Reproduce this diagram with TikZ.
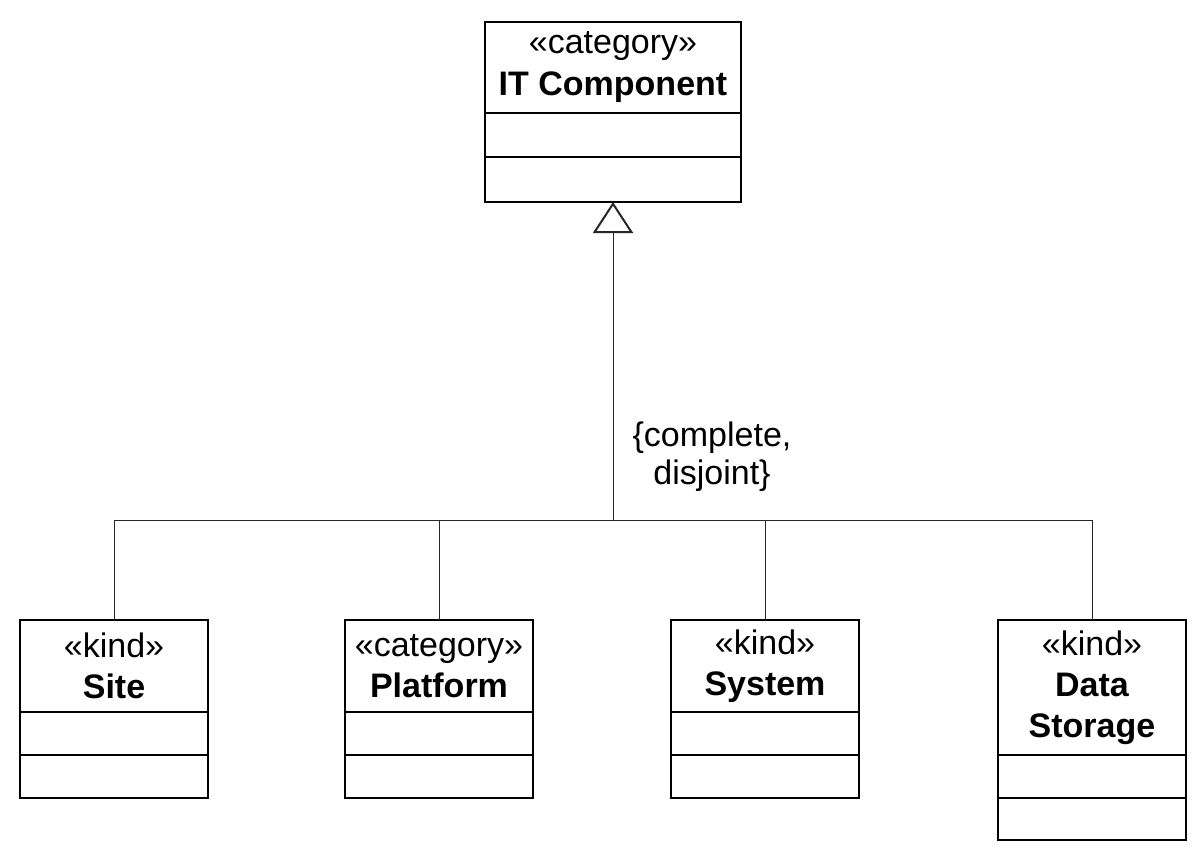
\documentclass[tikz,border=0pt]{standalone}
\usepackage{fontspec}
\setmainfont{Liberation Sans}
\usepackage{tikz}
\usetikzlibrary{positioning}
\usetikzlibrary{arrows.meta}

\begin{document}
\begin{tikzpicture}[x=1pt, y=-1pt,
	head/.style={draw, line width=2pt, outer sep=0pt, inner sep=0pt, minimum width=188pt, minimum height=92pt, align=center, font=\fontsize{34}{41}\selectfont},
	comp/.style={draw, line width=2pt, outer sep=0pt, inner sep=0pt, minimum width=188pt, minimum height=43pt},
	link/.style={line width=1pt, black!85},
	gen/.style={link, -{Triangle[open, length=31pt, width=40pt, line width=2pt]}}]
	\useasboundingbox (0,0) rectangle (1204,862);

	% general class
	\node[head, minimum width=256pt, minimum height=91pt, font=\fontsize{34}{42}\selectfont] (itc) at (613,67.5) {«category»\\\textbf{IT Component}};
	\node[comp, minimum width=256pt, minimum height=44pt, below=0pt of itc] (itc-a) {};
	\node[comp, minimum width=256pt, minimum height=45pt, below=0pt of itc-a] (itc-b) {};

	% specific classes
	\node[head] (site) at (114,666) {«kind»\\\textbf{Site}};
	\node[comp, below=0pt of site] (site-a) {};
	\node[comp, below=0pt of site-a] (site-b) {};

	\node[head, right=137pt of site] (plat) {«category»\\\textbf{Platform}};
	\node[comp, below=0pt of plat] (plat-a) {};
	\node[comp, below=0pt of plat-a] (plat-b) {};

	\node[head, right=138pt of plat] (sys) {«kind»\\\textbf{System}};
	\node[comp, below=0pt of sys] (sys-a) {};
	\node[comp, below=0pt of sys-a] (sys-b) {};

	\node[head, minimum height=135pt, anchor=north west] (data) at ([xshift=139pt]sys.north east) {«kind»\\\textbf{Data}\\\textbf{Storage}};
	\node[comp, below=0pt of data] (data-a) {};
	\node[comp, minimum height=42pt, below=0pt of data-a] (data-b) {};

	% generalization set
	\coordinate (split) at (613,520);
	\draw[gen] (split) -- (itc-b.south);
	\draw[link] (split) -| (site.north);
	\draw[link] (split) -| (plat.north);
	\draw[link] (split) -| (sys.north);
	\draw[link] (split) -| (data.north);
	\node[align=center, font=\fontsize{34}{38}\selectfont] (gset) at (712,457) {\{complete,\\disjoint\}};
\end{tikzpicture}
\end{document}
